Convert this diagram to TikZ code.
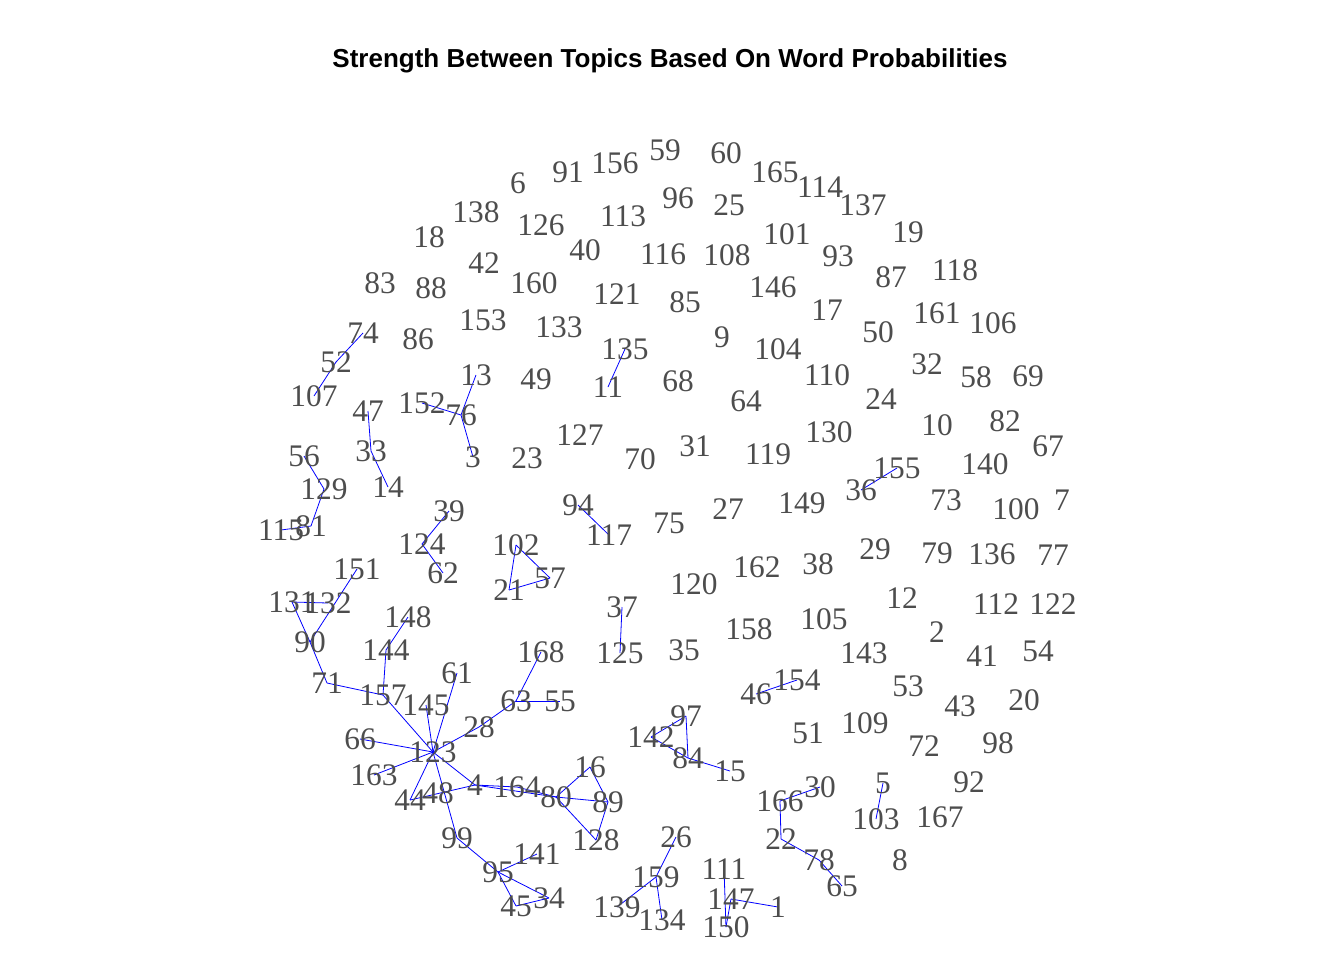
\documentclass[tikz,border=0pt]{standalone}
\usepackage{fontspec}
\setmainfont{Liberation Serif}
\newfontfamily\titlefont{Liberation Sans}
\usepackage{tikz}
\usetikzlibrary{backgrounds}
\definecolor{labelgray}{HTML}{4D4D4D}

\begin{document}
\begin{tikzpicture}[
    x=0.5pt, y=-0.5pt,
    topic/.style={inner sep=0pt, text=labelgray, font=\fontsize{15.7}{15.7}\selectfont},
    link/.style={blue, line width=0.4pt},
]
    \useasboundingbox (0,0) rectangle (1344,960);

    % Titel
    \node[font=\titlefont\fontsize{13}{13}\selectfont\bfseries] (title) at (670,61) {Strength Between Topics Based On Word Probabilities};

    % Themen
    \foreach \n/\x/\y in {
        59/665/150, 60/726/153, 156/615/163, 91/568/172, 165/775/172, 114/820/187,
        6/518/183, 96/678/198, 25/729/205, 137/863/205, 138/476/212, 126/541/225,
        113/623/216, 101/787/234, 19/908/232, 18/429/237, 40/585/250, 116/663/254,
        108/727/255, 93/838/256, 42/484/263, 87/891/277, 118/955/270, 83/380/283,
        88/431/288, 160/534/283, 121/617/294, 85/685/302, 146/773/287, 17/827/310,
        161/937/313, 106/993/323, 50/878/332, 153/483/320, 133/559/327, 74/363/333,
        86/418/339, 9/722/337, 135/625/349, 104/778/349, 52/336/362, 32/927/364,
        58/976/377, 69/1028/376, 13/476/375, 49/536/379, 11/608/387, 68/678/381,
        110/827/375, 107/314/396, 47/368/411, 152/422/403, 76/461/415, 64/746/401,
        24/881/399, 10/937/425, 82/1005/421, 127/580/435, 3/473/457, 23/527/458,
        70/640/459, 31/695/446, 119/768/454, 130/829/432, 67/1048/446, 56/304/456,
        33/371/451, 14/388/487, 155/897/468, 140/985/464, 36/861/490, 73/946/500,
        129/324/489, 100/1016/509, 7/1062/500, 94/578/505, 27/728/509, 149/802/503,
        39/449/511, 75/669/523, 117/609/535, 115/281/530, 81/311/526, 124/422/544,
        102/516/545, 29/875/549, 79/937/553, 136/992/554, 77/1053/555, 162/757/567,
        38/818/564, 151/357/569, 62/443/573, 57/550/578, 21/509/590, 120/694/584,
        131/292/602, 132/328/603, 37/622/607, 12/902/598, 112/996/604, 122/1053/604,
        148/408/617, 105/824/619, 158/749/629, 2/937/632, 90/310/642, 144/386/650,
        168/541/652, 125/620/653, 35/684/650, 143/864/653, 41/982/656, 54/1038/651,
        154/797/680, 46/756/694, 61/457/673, 71/327/683, 157/383/695, 145/426/705,
        53/908/686, 63/516/701, 55/560/701, 43/960/706, 20/1024/700, 28/479/727,
        97/686/716, 109/865/723, 142/651/737, 51/808/733, 66/360/739, 72/924/746,
        98/998/743, 123/433/752, 84/688/758, 15/730/771, 163/374/775, 16/590/767,
        164/517/787, 4/475/785, 30/820/787, 5/883/783, 92/969/782, 44/410/800,
        48/438/793, 80/556/797, 89/608/802, 166/780/801, 103/876/819, 167/940/817,
        99/457/838, 128/596/840, 26/676/837, 22/781/839, 141/537/854, 111/724/869,
        78/819/860, 8/900/860, 95/498/872, 159/656/877, 65/842/886, 34/549/898,
        45/516/906, 139/617/907, 147/731/899, 1/778/907, 134/662/920, 150/726/927}
        \node[topic] (t\n) at (\x,\y) {\n};

    % Verbindungen
    \begin{scope}[on background layer]
    \foreach \a/\b in {
        74/52, 52/107, 152/76, 13/76, 76/3, 47/33, 33/14, 56/129, 129/81, 115/81,
        39/124, 124/62, 151/90, 131/132, 131/90, 90/71, 71/157, 157/144, 144/148,
        157/123, 145/123, 61/123, 66/123, 163/123, 28/123, 4/123, 44/123, 99/123,
        44/4, 4/164, 4/80, 164/80, 28/63, 63/55, 63/168, 80/16, 80/89, 80/128,
        16/89, 89/128, 99/95, 95/141, 95/34, 95/45, 45/34, 102/57, 102/21, 21/57,
        94/117, 37/125, 135/11, 97/142, 97/84, 142/84, 84/15, 46/154, 36/155,
        166/30, 166/22, 22/78, 78/65, 5/103, 26/159, 159/139, 159/134,
        111/150, 147/150, 147/1}
        \draw[link] (t\a.center) -- (t\b.center);
    \end{scope}
\end{tikzpicture}
\end{document}
